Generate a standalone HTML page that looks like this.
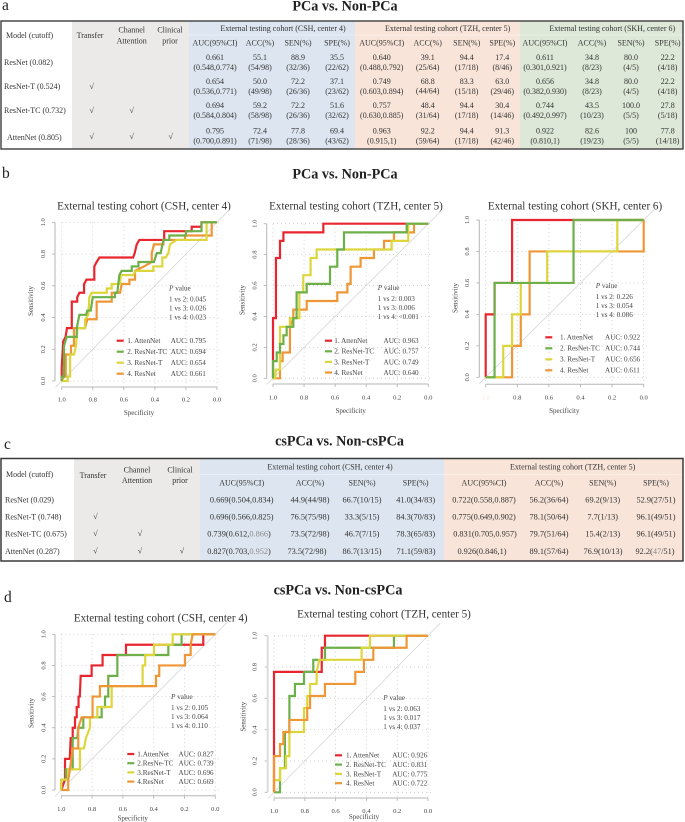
<!DOCTYPE html>
<html lang="en">
<head>
<meta charset="utf-8">
<title>PCa vs. Non-PCa model comparison</title>
<style>
html,body{margin:0;padding:0;background:#fff;}
svg{display:block;font-family:"Liberation Serif",serif;filter:blur(0.3px);}
.t{font-size:8px;fill:#333;text-anchor:middle;}
.c{font-size:8.3px;fill:#333;text-anchor:middle;}
.l{font-size:8px;fill:#333;}
.f{fill:#8a8a8a;}
.panel{font-size:15.5px;fill:#222;}
.head{font-size:14.2px;font-weight:bold;fill:#222;text-anchor:middle;}
</style>
</head>
<body>
<svg id="figure" xmlns="http://www.w3.org/2000/svg" width="685" height="822" viewBox="0 0 685 822">
<rect x="0" y="0" width="685" height="822" fill="#ffffff"/>

<text class="panel" x="2" y="10">a</text>
<text class="head" x="345" y="10.5">PCa vs. Non-PCa</text>

<g>
<rect x="1" y="21" width="71" height="128" fill="#ffffff"/>
<rect x="72" y="21" width="117" height="128" fill="#ebeae8"/>
<rect x="189" y="21" width="166" height="128" fill="#dde6f0"/>
<rect x="355" y="21" width="165" height="128" fill="#f8e4d9"/>
<rect x="520" y="21" width="163" height="128" fill="#dde8d8"/>
<line x1="189" x2="683" y1="35" y2="35" stroke="#ffffff" stroke-opacity="0.5" stroke-width="0.7"/>
<rect x="1" y="21" width="682" height="128" fill="none" stroke="#4a4a4a" stroke-width="1.5"/>

<text class="l" x="6" y="38">Model (cutoff)</text>
<text class="t" x="90" y="38">Transfer</text>
<text class="t" x="131.7" y="32.7">Channel<tspan x="131.7" dy="10.7">Attention</tspan></text>
<text class="t" x="170" y="32.7">Clinical<tspan x="170" dy="10.7">prior</tspan></text>
<text class="t" x="283" y="31">External testing cohort (CSH, center 4)</text>
<text class="t" x="447.7" y="31">External testing cohort (TZH, center 5)</text>
<text class="t" x="612.3" y="31">External testing cohort (SKH, center 6)</text>

<text class="t" x="215" y="45.5">AUC(95%CI)</text>
<text class="t" x="260" y="45.5">ACC(%)</text>
<text class="t" x="298" y="45.5">SEN(%)</text>
<text class="t" x="337" y="45.5">SPE(%)</text>
<text class="t" x="381.7" y="45.5">AUC(95%CI)</text>
<text class="t" x="427.7" y="45.5">ACC(%)</text>
<text class="t" x="466.7" y="45.5">SEN(%)</text>
<text class="t" x="502.3" y="45.5">SPE(%)</text>
<text class="t" x="545" y="45.5">AUC(95%CI)</text>
<text class="t" x="592" y="45.5">ACC(%)</text>
<text class="t" x="631" y="45.5">SEN(%)</text>
<text class="t" x="667.7" y="45.5">SPE(%)</text>

<text class="l" x="4" y="65">ResNet (0.082)</text>
<text class="t" x="215" y="60">0.661<tspan x="215" dy="10">(0.548,0.774)</tspan></text>
<text class="t" x="260" y="60">55.1<tspan x="260" dy="10">(54/98)</tspan></text>
<text class="t" x="298" y="60">88.9<tspan x="298" dy="10">(32/36)</tspan></text>
<text class="t" x="337" y="60">35.5<tspan x="337" dy="10">(22/62)</tspan></text>
<text class="t" x="381.7" y="60">0.640<tspan x="381.7" dy="10">(0.488,0.792)</tspan></text>
<text class="t" x="427.7" y="60">39.1<tspan x="427.7" dy="10">(25/64)</tspan></text>
<text class="t" x="466.7" y="60">94.4<tspan x="466.7" dy="10">(17/18)</tspan></text>
<text class="t" x="502.3" y="60">17.4<tspan x="502.3" dy="10">(8/46)</tspan></text>
<text class="t" x="545" y="60">0.611<tspan x="545" dy="10">(0.301,0.921)</tspan></text>
<text class="t" x="592" y="60">34.8<tspan x="592" dy="10">(8/23)</tspan></text>
<text class="t" x="631" y="60">80.0<tspan x="631" dy="10">(4/5)</tspan></text>
<text class="t" x="667.7" y="60">22.2<tspan x="667.7" dy="10">(4/18)</tspan></text>

<text class="l" x="4" y="89">ResNet-T (0.524)</text>
<text class="t" x="91.7" y="89">√</text>
<text class="t" x="215" y="84">0.654<tspan x="215" dy="10">(0.536,0.771)</tspan></text>
<text class="t" x="260" y="84">50.0<tspan x="260" dy="10">(49/98)</tspan></text>
<text class="t" x="298" y="84">72.2<tspan x="298" dy="10">(26/36)</tspan></text>
<text class="t" x="337" y="84">37.1<tspan x="337" dy="10">(23/62)</tspan></text>
<text class="t" x="381.7" y="84">0.749<tspan x="381.7" dy="10">(0.603,0.894)</tspan></text>
<text class="t" x="427.7" y="84">68.8<tspan x="427.7" dy="9.5">(44/64)</tspan></text>
<text class="t" x="466.7" y="84">83.3<tspan x="466.7" dy="10">(15/18)</tspan></text>
<text class="t" x="502.3" y="84">63.0<tspan x="502.3" dy="10">(29/46)</tspan></text>
<text class="t" x="545" y="84">0.656<tspan x="545" dy="10">(0.382,0.930)</tspan></text>
<text class="t" x="592" y="84">34.8<tspan x="592" dy="10">(8/23)</tspan></text>
<text class="t" x="631" y="84">80.0<tspan x="631" dy="10">(4/5)</tspan></text>
<text class="t" x="667.7" y="84">22.2<tspan x="667.7" dy="10">(4/18)</tspan></text>

<text class="l" x="4" y="113">ResNet-TC (0.732)</text>
<text class="t" x="91.7" y="113">√</text>
<text class="t" x="131.7" y="113">√</text>
<text class="t" x="215" y="108">0.694<tspan x="215" dy="10">(0.584,0.804)</tspan></text>
<text class="t" x="260" y="108">59.2<tspan x="260" dy="10">(58/98)</tspan></text>
<text class="t" x="298" y="108">72.2<tspan x="298" dy="10">(26/36)</tspan></text>
<text class="t" x="337" y="108">51.6<tspan x="337" dy="10">(32/62)</tspan></text>
<text class="t" x="381.7" y="108">0.757<tspan x="381.7" dy="10">(0.630,0.885)</tspan></text>
<text class="t" x="427.7" y="108">48.4<tspan x="427.7" dy="10">(31/64)</tspan></text>
<text class="t" x="466.7" y="108">94.4<tspan x="466.7" dy="10">(17/18)</tspan></text>
<text class="t" x="502.3" y="108">30.4<tspan x="502.3" dy="10">(14/46)</tspan></text>
<text class="t" x="545" y="108">0.744<tspan x="545" dy="10">(0.492,0.997)</tspan></text>
<text class="t" x="592" y="108">43.5<tspan x="592" dy="10">(10/23)</tspan></text>
<text class="t" x="631" y="108">100.0<tspan x="631" dy="10">(5/5)</tspan></text>
<text class="t" x="667.7" y="108">27.8<tspan x="667.7" dy="10">(5/18)</tspan></text>

<text class="l" x="7" y="140">AttenNet (0.805)</text>
<text class="t" x="91.7" y="139">√</text>
<text class="t" x="131.7" y="139">√</text>
<text class="t" x="170.7" y="139">√</text>
<text class="t" x="215" y="133.3">0.795<tspan x="215" dy="10">(0.700,0.891)</tspan></text>
<text class="t" x="260" y="133.3">72.4<tspan x="260" dy="10">(71/98)</tspan></text>
<text class="t" x="298" y="133.3">77.8<tspan x="298" dy="10">(28/36)</tspan></text>
<text class="t" x="337" y="133.3">69.4<tspan x="337" dy="10">(43/62)</tspan></text>
<text class="t" x="381.7" y="133.3">0.963<tspan x="381.7" dy="10">(0.915,1)</tspan></text>
<text class="t" x="427.7" y="133.3">92.2<tspan x="427.7" dy="10">(59/64)</tspan></text>
<text class="t" x="466.7" y="133.3">94.4<tspan x="466.7" dy="10">(17/18)</tspan></text>
<text class="t" x="502.3" y="133.3">91.3<tspan x="502.3" dy="10">(42/46)</tspan></text>
<text class="t" x="545" y="133.3">0.922<tspan x="545" dy="10">(0.810,1)</tspan></text>
<text class="t" x="592" y="133.3">82.6<tspan x="592" dy="10">(19/23)</tspan></text>
<text class="t" x="631" y="133.3">100<tspan x="631" dy="10">(5/5)</tspan></text>
<text class="t" x="667.7" y="133.3">77.8<tspan x="667.7" dy="10">(14/18)</tspan></text>
</g>

<text class="panel" x="2" y="178">b</text>
<text class="head" x="345" y="178.7">PCa vs. Non-PCa</text>

<text class="panel" x="4" y="449">c</text>
<text class="head" x="339.5" y="445.3">csPCa vs. Non-csPCa</text>

<g>
<rect x="1" y="458.5" width="73" height="102.5" fill="#ffffff"/>
<rect x="74" y="458.5" width="126" height="102.5" fill="#ebeae8"/>
<rect x="200" y="458.5" width="244" height="102.5" fill="#dde6f0"/>
<rect x="444" y="458.5" width="239" height="102.5" fill="#f8e4d9"/>
<line x1="200" x2="683" y1="474.5" y2="474.5" stroke="#ffffff" stroke-opacity="0.5" stroke-width="0.7"/>
<rect x="1" y="458.5" width="682" height="102.5" fill="none" stroke="#3a3a3a" stroke-width="1.5"/>

<text class="l" x="6" y="477">Model (cutoff)</text>
<text class="t" x="93" y="478">Transfer</text>
<text class="t" x="137" y="472.7">Channel<tspan x="137" dy="10.5">Attention</tspan></text>
<text class="t" x="180" y="472.7">Clinical<tspan x="180" dy="10.5">prior</tspan></text>
<text class="t" x="330" y="469.5">External testing cohort (CSH, center 4)</text>
<text class="t" x="572.7" y="469.5">External testing cohort (TZH, center 5)</text>

<text class="t" x="241.7" y="485.5">AUC(95%CI)</text>
<text class="t" x="310" y="485.5">ACC(%)</text>
<text class="t" x="362" y="485.5">SEN(%)</text>
<text class="t" x="415.7" y="485.5">SPE(%)</text>
<text class="t" x="484" y="485.5">AUC(95%CI)</text>
<text class="t" x="549" y="485.5">ACC(%)</text>
<text class="t" x="602.7" y="485.5">SEN(%)</text>
<text class="t" x="656" y="485.5">SPE(%)</text>

<text class="l" x="5" y="502.5">ResNet (0.029)</text>
<text class="c" x="241.7" y="502.5">0.669(0.504,0.834)</text>
<text class="c" x="310" y="502.5">44.9(44/98)</text>
<text class="c" x="362" y="502.5">66.7(10/15)</text>
<text class="c" x="415.7" y="502.5">41.0(34/83)</text>
<text class="c" x="484" y="502.5">0.722(0.558,0.887)</text>
<text class="c" x="549" y="502.5">56.2(36/64)</text>
<text class="c" x="602.7" y="502.5">69.2(9/13)</text>
<text class="c" x="656" y="502.5">52.9(27/51)</text>

<text class="l" x="5" y="519.5">ResNet-T (0.748)</text>
<text class="t" x="95.5" y="519">√</text>
<text class="c" x="241.7" y="519.5">0.696(0.566,0.825)</text>
<text class="c" x="310" y="519.5">76.5(75/98)</text>
<text class="c" x="362" y="519.5">33.3(5/15)</text>
<text class="c" x="415.7" y="519.5">84.3(70/83)</text>
<text class="c" x="484" y="519.5">0.775(0.649,0.902)</text>
<text class="c" x="549" y="519.5">78.1(50/64)</text>
<text class="c" x="602.7" y="519.5">7.7(1/13)</text>
<text class="c" x="656" y="519.5">96.1(49/51)</text>

<text class="l" x="5" y="536.5">ResNet-TC (0.675)</text>
<text class="t" x="95.5" y="536">√</text>
<text class="t" x="140" y="536">√</text>
<text class="c" x="239" y="536.5">0.739(0.612,<tspan class="f">0.866</tspan>)</text>
<text class="c" x="310" y="536.5">73.5(72/98)</text>
<text class="c" x="362" y="536.5">46.7(7/15)</text>
<text class="c" x="415.7" y="536.5">78.3(65/83)</text>
<text class="c" x="485" y="536.5">0.831(0.705,0.957)</text>
<text class="c" x="549" y="536.5">79.7(51/64)</text>
<text class="c" x="602.7" y="536.5">15.4(2/13)</text>
<text class="c" x="656" y="536.5">96.1(49/51)</text>

<text class="l" x="5" y="554">AttenNet (0.287)</text>
<text class="t" x="95.5" y="553.5">√</text>
<text class="t" x="140" y="553.5">√</text>
<text class="t" x="182" y="553.5">√</text>
<text class="c" x="239" y="554">0.827(0.703,<tspan class="f">0.952</tspan>)</text>
<text class="c" x="307" y="554">73.5(72/98)</text>
<text class="c" x="362" y="554">86.7(13/15)</text>
<text class="c" x="416" y="554">71.1(59/83)</text>
<text class="c" x="482" y="554">0.926(0.846,1)</text>
<text class="c" x="549" y="554">89.1(57/64)</text>
<text class="c" x="603" y="554">76.9(10/13)</text>
<text class="c" x="655" y="554">92.2(<tspan class="f">47</tspan>/51)</text>
</g>

<text class="panel" x="4" y="602">d</text>
<text class="head" x="338" y="594.3">csPCa vs. Non-csPCa</text>
</svg>

<script>
/* Shared axis values */
const tickValues = [1, 0.8, 0.6, 0.4, 0.2, 0];
const tickLabels = ['1.0', '0.8', '0.6', '0.4', '0.2', '0.0'];
const modelKeys = ['attennet', 'resnet-tc', 'resnet-t', 'resnet'];
const legendNames = ['1. AttenNet', '2. ResNet-TC', '3. ResNet-T', '4. ResNet'];
const legendNamesD1 = ['1.AttenNet', '2.ResNe-TC', '3.ResNet-T', '4.ResNet'];

/* b1: CSH, center 4 */
const b1AttenSpec = [1,1,.99,.975,.966,.935,.935,.9,.9,.886,.856,.856,.84,.79,.79,.775,.757,.54,.53,.517,.5,.34,.34,.163,.163,.1,.1,0];
const b1AttenSens = [0,.083,.25,.278,.333,.333,.5,.5,.528,.556,.556,.611,.639,.639,.722,.75,.778,.778,.806,.861,.889,.889,.944,.944,.972,.972,1,1];
const b1TcSpec = [1,1,.985,.985,.968,.903,.903,.886,.843,.835,.813,.8,.657,.657,.642,.629,.614,.549,.549,.506,.506,.406,.388,.363,.345,.307,.307,.2,.2,.1,.1,0];
const b1TcSens = [0,.028,.028,.222,.278,.278,.333,.417,.417,.444,.444,.528,.528,.556,.556,.667,.694,.694,.722,.722,.75,.75,.806,.806,.889,.889,.917,.917,.944,.944,1,1];
const b1TSpec = [1,.961,.961,.946,.946,.921,.908,.899,.85,.85,.828,.822,.807,.71,.71,.678,.678,.624,.62,.543,.521,.41,.41,.352,.352,.33,.313,.303,.26,.067,.067,0];
const b1TSens = [0,0,.028,.028,.167,.167,.222,.333,.333,.389,.417,.528,.556,.556,.583,.583,.611,.611,.667,.667,.694,.694,.722,.722,.778,.778,.806,.861,.889,.889,1,1];
const b1RSpec = [1,.989,.974,.974,.94,.94,.921,.921,.85,.835,.775,.775,.678,.678,.624,.614,.564,.564,.528,.528,.47,.42,.42,.406,.345,.345,.206,.206,.034,.034,0];
const b1RSens = [0,.028,.028,.167,.167,.222,.222,.333,.333,.389,.389,.5,.5,.556,.556,.611,.611,.639,.639,.694,.722,.75,.806,.861,.861,.889,.889,.917,.917,1,1];
const b1Auc = ['AUC: 0.795', 'AUC: 0.694', 'AUC: 0.654', 'AUC: 0.661'];
const b1P = ['1 vs 2: 0.045', '1 vs 3: 0.026', '1 vs 4: 0.023'];

/* b2: TZH, center 5 */
const b2AttenSpec = [1,1,.981,.981,.955,.955,.933,.933,.676,.676,0];
const b2AttenSens = [0,.389,.389,.778,.778,.889,.889,.944,.944,1,1];
const b2TcSpec = [1,1,.976,.976,.955,.955,.933,.933,.912,.912,.869,.869,.848,.848,.783,.783,.633,.633,.586,.586,.543,.543,.139,.139,0];
const b2TcSens = [0,.111,.111,.167,.167,.222,.222,.278,.278,.333,.333,.389,.389,.556,.556,.611,.611,.722,.722,.833,.833,.944,.944,1,1];
const b2TSpec = [1,.987,.981,.955,.955,.891,.891,.83,.83,.805,.805,.758,.758,.719,.719,.236,.236,.129,.129,0];
const b2TSens = [0,0,.056,.056,.333,.333,.389,.389,.556,.556,.667,.667,.778,.778,.833,.833,.889,.889,1,1];
const b2RSpec = [1,.955,.955,.938,.938,.891,.891,.869,.869,.783,.783,.586,.586,.521,.521,.5,.5,.436,.436,.35,.35,.285,.285,.221,.221,.092,.092,0];
const b2RSens = [0,0,.111,.111,.167,.167,.333,.389,.444,.444,.5,.5,.556,.556,.611,.611,.722,.722,.778,.778,.833,.833,.889,.889,.944,.944,1,1];
const b2Auc = ['AUC: 0.963', 'AUC: 0.757', 'AUC: 0.749', 'AUC: 0.640'];
const b2P = ['1 vs 2: 0.003', '1 vs 3: 0.006', '1 vs 4: <0.001'];

/* b3: SKH, center 6 */
const b3AttenSpec = [1,1,.944,.944,.833,.833,0];
const b3AttenSens = [0,.4,.4,.6,.6,1,1];
const b3TcSpec = [1,.944,.944,.444,.444,0];
const b3TcSens = [0,0,.6,.6,1,1];
const b3TSpec = [1,.889,.889,.833,.833,.778,.778,.611,.611,.167,.167,0];
const b3TSens = [0,0,.2,.2,.4,.4,.6,.6,.8,.8,1,1];
const b3RSpec = [1,.833,.833,.778,.778,.722,.722,0,0];
const b3RSens = [0,0,.2,.2,.4,.4,.8,.8,1];
const b3Auc = ['AUC: 0.922', 'AUC: 0.744', 'AUC: 0.656', 'AUC: 0.611'];
const b3P = ['1 vs 2: 0.226', '1 vs 3: 0.054', '1 vs 4: 0.086'];

/* d1: CSH, center 4 */
const d1AttenSpec = [1,.976,.976,.945,.939,.926,.926,.911,.911,.9,.9,.888,.888,.88,.874,.803,.803,.732,.732,.58,.58,.078,.078,0];
const d1AttenSens = [0,.067,.2,.2,.333,.333,.4,.4,.467,.467,.533,.533,.6,.6,.733,.733,.8,.8,.867,.867,.933,.933,1,1];
const d1TcSpec = [1,1,.97,.97,.926,.926,.896,.89,.857,.857,.738,.738,.716,.716,.695,.695,.636,.636,.305,.305,.219,.219,0];
const d1TcSens = [0,.067,.067,.133,.133,.333,.333,.4,.4,.467,.467,.533,.533,.6,.6,.733,.733,.867,.867,.933,.933,1,1];
const d1TSpec = [1,1,.955,.955,.879,.879,.853,.84,.814,.814,.766,.766,.673,.673,.472,.472,.455,.455,.398,.398,.277,.277,0];
const d1TSens = [0,.067,.067,.133,.133,.267,.267,.333,.4,.467,.467,.533,.533,.667,.667,.8,.8,.867,.867,.933,.933,1,1];
const d1RSpec = [1,.955,.955,.944,.926,.89,.89,.868,.797,.797,.749,.749,.385,.385,.364,.364,.197,.197,.16,.16,.147,0];
const d1RSens = [0,0,.067,.133,.267,.267,.4,.467,.467,.6,.6,.667,.667,.733,.733,.8,.8,.867,.867,.933,1,1];
const d1Auc = ['AUC: 0.827', 'AUC: 0.739', 'AUC: 0.696', 'AUC: 0.669'];
const d1P = ['1 vs 2: 0.105', '1 vs 3: 0.064', '1 vs 4: 0.110'];

/* d2: TZH, center 5 */
const d2AttenSpec = [1,1,.69,.69,.669,.669,0];
const d2AttenSens = [0,.769,.769,.923,.923,1,1];
const d2TcSpec = [1,.961,.961,.929,.929,.9,.9,.864,.864,.805,.805,.745,.745,.669,.669,.221,.221,0];
const d2TcSens = [0,0,.154,.154,.385,.385,.615,.615,.692,.692,.769,.769,.846,.846,.923,.923,1,1];
const d2TSpec = [1,1,.961,.961,.922,.922,.9,.9,.805,.805,.784,.784,.766,.766,.723,.723,.706,.431,.431,.377,.377,0];
const d2TSens = [0,.077,.077,.154,.154,.231,.231,.385,.385,.538,.538,.615,.615,.692,.692,.769,.846,.846,.923,.923,1,1];
const d2RSpec = [1,1,.961,.961,.939,.939,.9,.9,.784,.784,.766,.766,.669,.669,.472,.472,.416,.416,.355,.355,.139,.139,0];
const d2RSens = [0,.231,.231,.308,.308,.385,.385,.462,.462,.538,.538,.615,.615,.692,.692,.769,.769,.846,.846,.923,.923,1,1];
const d2Auc = ['AUC: 0.926', 'AUC: 0.831', 'AUC: 0.775', 'AUC: 0.722'];
const d2P = ['1 vs 2: 0.063', '1 vs 3: 0.017', '1 vs 4: 0.037'];

const colors = ['#e8262f', '#6db04a', '#dcd63c', '#ef9637'];
const NS = 'http://www.w3.org/2000/svg';
const root = document.getElementById('figure');

function mk(tag, parent, attrs, text) {
  const el = document.createElementNS(NS, tag);
  for (const k in attrs) el.setAttribute(k, attrs[k]);
  if (text !== undefined) el.textContent = text;
  parent.appendChild(el);
  return el;
}

function drawRoc(id, cfg, specs, senss, aucs, pvals, names) {
  const xAt = s => cfg.x0 + (cfg.x1 - cfg.x0) * s;
  const yAt = v => cfg.y0 + (cfg.y1 - cfg.y0) * v;
  const g = mk('g', root, {});
  
  

  const title = mk('text', g, {x: cfg.titleX, y: cfg.titleY, 'text-anchor': 'middle', 'font-size': 11.1, fill: '#333'}, cfg.title);
  
  

  tickValues.forEach((v, i) => {
    const gv = mk('line', g, {x1: xAt(v), x2: xAt(v), y1: yAt(1), y2: cfg.axisY, stroke: '#c9c9c9', 'stroke-width': 0.8, 'stroke-dasharray': '1 3'});
    
    
    const gh = mk('line', g, {x1: xAt(1), x2: xAt(-0.02), y1: yAt(v), y2: yAt(v), stroke: '#c9c9c9', 'stroke-width': 0.8, 'stroke-dasharray': '1 3'});
    
    
    const tx = mk('line', g, {x1: xAt(v), x2: xAt(v), y1: cfg.axisY, y2: cfg.axisY + 3, stroke: '#b5b5b5', 'stroke-width': 0.9});
    
    
    const ty = mk('line', g, {x1: cfg.axisX, x2: cfg.axisX - 3, y1: yAt(v), y2: yAt(v), stroke: '#b5b5b5', 'stroke-width': 0.9});
    
    
    const xl = mk('text', g, {x: xAt(v), y: cfg.xTickY, 'text-anchor': 'middle', 'font-size': 6.6, fill: (cfg.fadeFirst && i === 0) ? '#f6e6dc' : '#444'}, tickLabels[i]);
    
    
    const yl = mk('text', g, {x: cfg.yTickX, y: yAt(v), 'text-anchor': 'middle', 'font-size': 6.6, fill: '#444', transform: 'rotate(-90 ' + cfg.yTickX + ' ' + yAt(v) + ')'}, tickLabels[i]);
    
    
  });

  const ax = mk('line', g, {x1: xAt(1), x2: xAt(0), y1: cfg.axisY, y2: cfg.axisY, stroke: '#b5b5b5', 'stroke-width': 1});
  
  
  const ay = mk('line', g, {x1: cfg.axisX, x2: cfg.axisX, y1: yAt(1), y2: yAt(0), stroke: cfg.axisYColor || '#b5b5b5', 'stroke-width': cfg.axisYWidth || 1});
  
  
  const diag = mk('line', g, {x1: xAt(1.04), y1: yAt(-0.04), x2: xAt(-0.08), y2: yAt(1.08), stroke: '#d0d0d0', 'stroke-width': 0.7});
  
  

  cfg.order.forEach(k => {
    const d = specs[k].map((s, i) => (i ? 'L' : 'M') + xAt(s).toFixed(2) + ' ' + yAt(senss[k][i]).toFixed(2)).join('');
    const p = mk('path', g, {d: d, fill: 'none', stroke: colors[k], 'stroke-width': 2.2, 'stroke-linejoin': 'miter'});
    
    
  });

  names.forEach((n, k) => {
    const y = cfg.legendY + k * cfg.legendStep;
    const sw = mk('line', g, {x1: cfg.legendLine, x2: cfg.legendLine + 7, y1: y, y2: y, stroke: colors[k], 'stroke-width': 2.2});
    
    
    const lt = mk('text', g, {x: cfg.legendText, y: y + 2.4, 'font-size': 7.2, fill: '#444'}, n);
    
    
    const at = mk('text', g, {x: cfg.legendAuc, y: y + 2.4, 'font-size': 7.2, fill: '#444'}, aucs[k]);
    
    
  });

  const ph = mk('text', g, {x: cfg.pX, y: cfg.pY + 2.4, 'font-size': 7.2, fill: '#444'});
  
  
  mk('tspan', ph, {'font-style': 'italic'}, 'P');
  mk('tspan', ph, {}, ' value');
  pvals.forEach((t, i) => {
    const pl = mk('text', g, {x: cfg.pX, y: cfg.pY + 11 + i * 8.9 + 2.4, 'font-size': 7.2, fill: '#444'}, t);
    
    
  });

  const xt = mk('text', g, {x: cfg.xLabelX, y: cfg.xLabelY, 'text-anchor': 'middle', 'font-size': 7, fill: '#444'}, 'Specificity');
  
  
  const yt = mk('text', g, {x: cfg.yLabelX, y: cfg.yLabelY, 'text-anchor': 'middle', 'font-size': 7, fill: '#444', transform: 'rotate(-90 ' + cfg.yLabelX + ' ' + cfg.yLabelY + ')'}, 'Sensitivity');
  
  
}

const orderB = [0, 3, 2, 1];
const orderD = [0, 1, 2, 3];

drawRoc('b1', {title: 'External testing cohort (CSH, center 4)', titleX: 144, titleY: 209.5,
  x1: 61.7, x0: 217, y1: 222.3, y0: 381, axisX: 55, axisY: 387, xTickY: 401.5, yTickX: 45, order: orderB,
  legendLine: 116.7, legendText: 127.3, legendAuc: 170.7, legendY: 340.7, legendStep: 11,
  pX: 169, pY: 288.3, xLabelX: 139, xLabelY: 415, yLabelX: 33, yLabelY: 301},
  [b1AttenSpec, b1TcSpec, b1TSpec, b1RSpec], [b1AttenSens, b1TcSens, b1TSens, b1RSens], b1Auc, b1P, legendNames);

drawRoc('b2', {title: 'External testing cohort (TZH, center 5)', titleX: 356, titleY: 209.3,
  x1: 273, x0: 428.3, y1: 223.7, y0: 378.3, axisX: 266.7, axisY: 384, xTickY: 399.5, yTickX: 256.3, order: orderB,
  legendLine: 325, legendText: 334.3, legendAuc: 383.5, legendY: 340.7, legendStep: 10.6,
  pX: 377.7, pY: 287.7, xLabelX: 350.7, xLabelY: 413, yLabelX: 244.5, yLabelY: 300},
  [b2AttenSpec, b2TcSpec, b2TSpec, b2RSpec], [b2AttenSens, b2TcSens, b2TSens, b2RSens], b2Auc, b2P, legendNames);

drawRoc('b3', {title: 'External testing cohort (SKH, center 6)', titleX: 575, titleY: 209.5,
  x1: 485.7, x0: 643.7, y1: 220, y0: 377.3, axisX: 479.3, axisY: 384.3, xTickY: 399.5, yTickX: 469, order: orderB, fadeFirst: true,
  legendLine: 545.3, legendText: 560, legendAuc: 605, legendY: 337.3, legendStep: 11,
  pX: 595.7, pY: 285.7, xLabelX: 564.3, xLabelY: 413, yLabelX: 457.3, yLabelY: 298},
  [b3AttenSpec, b3TcSpec, b3TSpec, b3RSpec], [b3AttenSens, b3TcSens, b3TSens, b3RSens], b3Auc, b3P, legendNames);

drawRoc('d1', {title: 'External testing cohort (CSH, center 4)', titleX: 160.7, titleY: 621.7,
  x1: 61.3, x0: 215.3, y1: 634.3, y0: 790, axisX: 55, axisY: 795.7, xTickY: 811, yTickX: 45.5, order: orderD,
  legendLine: 127.3, legendText: 137.3, legendAuc: 178.5, legendY: 754, legendStep: 9.2,
  pX: 171, pY: 696.7, xLabelX: 132.7, xLabelY: 820.5, yLabelX: 33.3, yLabelY: 713},
  [d1AttenSpec, d1TcSpec, d1TSpec, d1RSpec], [d1AttenSens, d1TcSens, d1TSens, d1RSens], d1Auc, d1P, legendNamesD1);

drawRoc('d2', {title: 'External testing cohort (TZH, center 5)', titleX: 384, titleY: 617.7,
  x1: 274, x0: 428, y1: 635.7, y0: 792.3, axisX: 267.7, axisY: 798, axisYColor: '#dcdcdc', axisYWidth: 2, xTickY: 813, yTickX: 256.3, order: orderD,
  legendLine: 335, legendText: 346, legendAuc: 392.2, legendY: 755.3, legendStep: 9.3,
  pX: 383.3, pY: 697.7, xLabelX: 364, xLabelY: 819, yLabelX: 245.5, yLabelY: 716.7},
  [d2AttenSpec, d2TcSpec, d2TSpec, d2RSpec], [d2AttenSens, d2TcSens, d2TSens, d2RSens], d2Auc, d2P, legendNames);
</script>
</body>
</html>
